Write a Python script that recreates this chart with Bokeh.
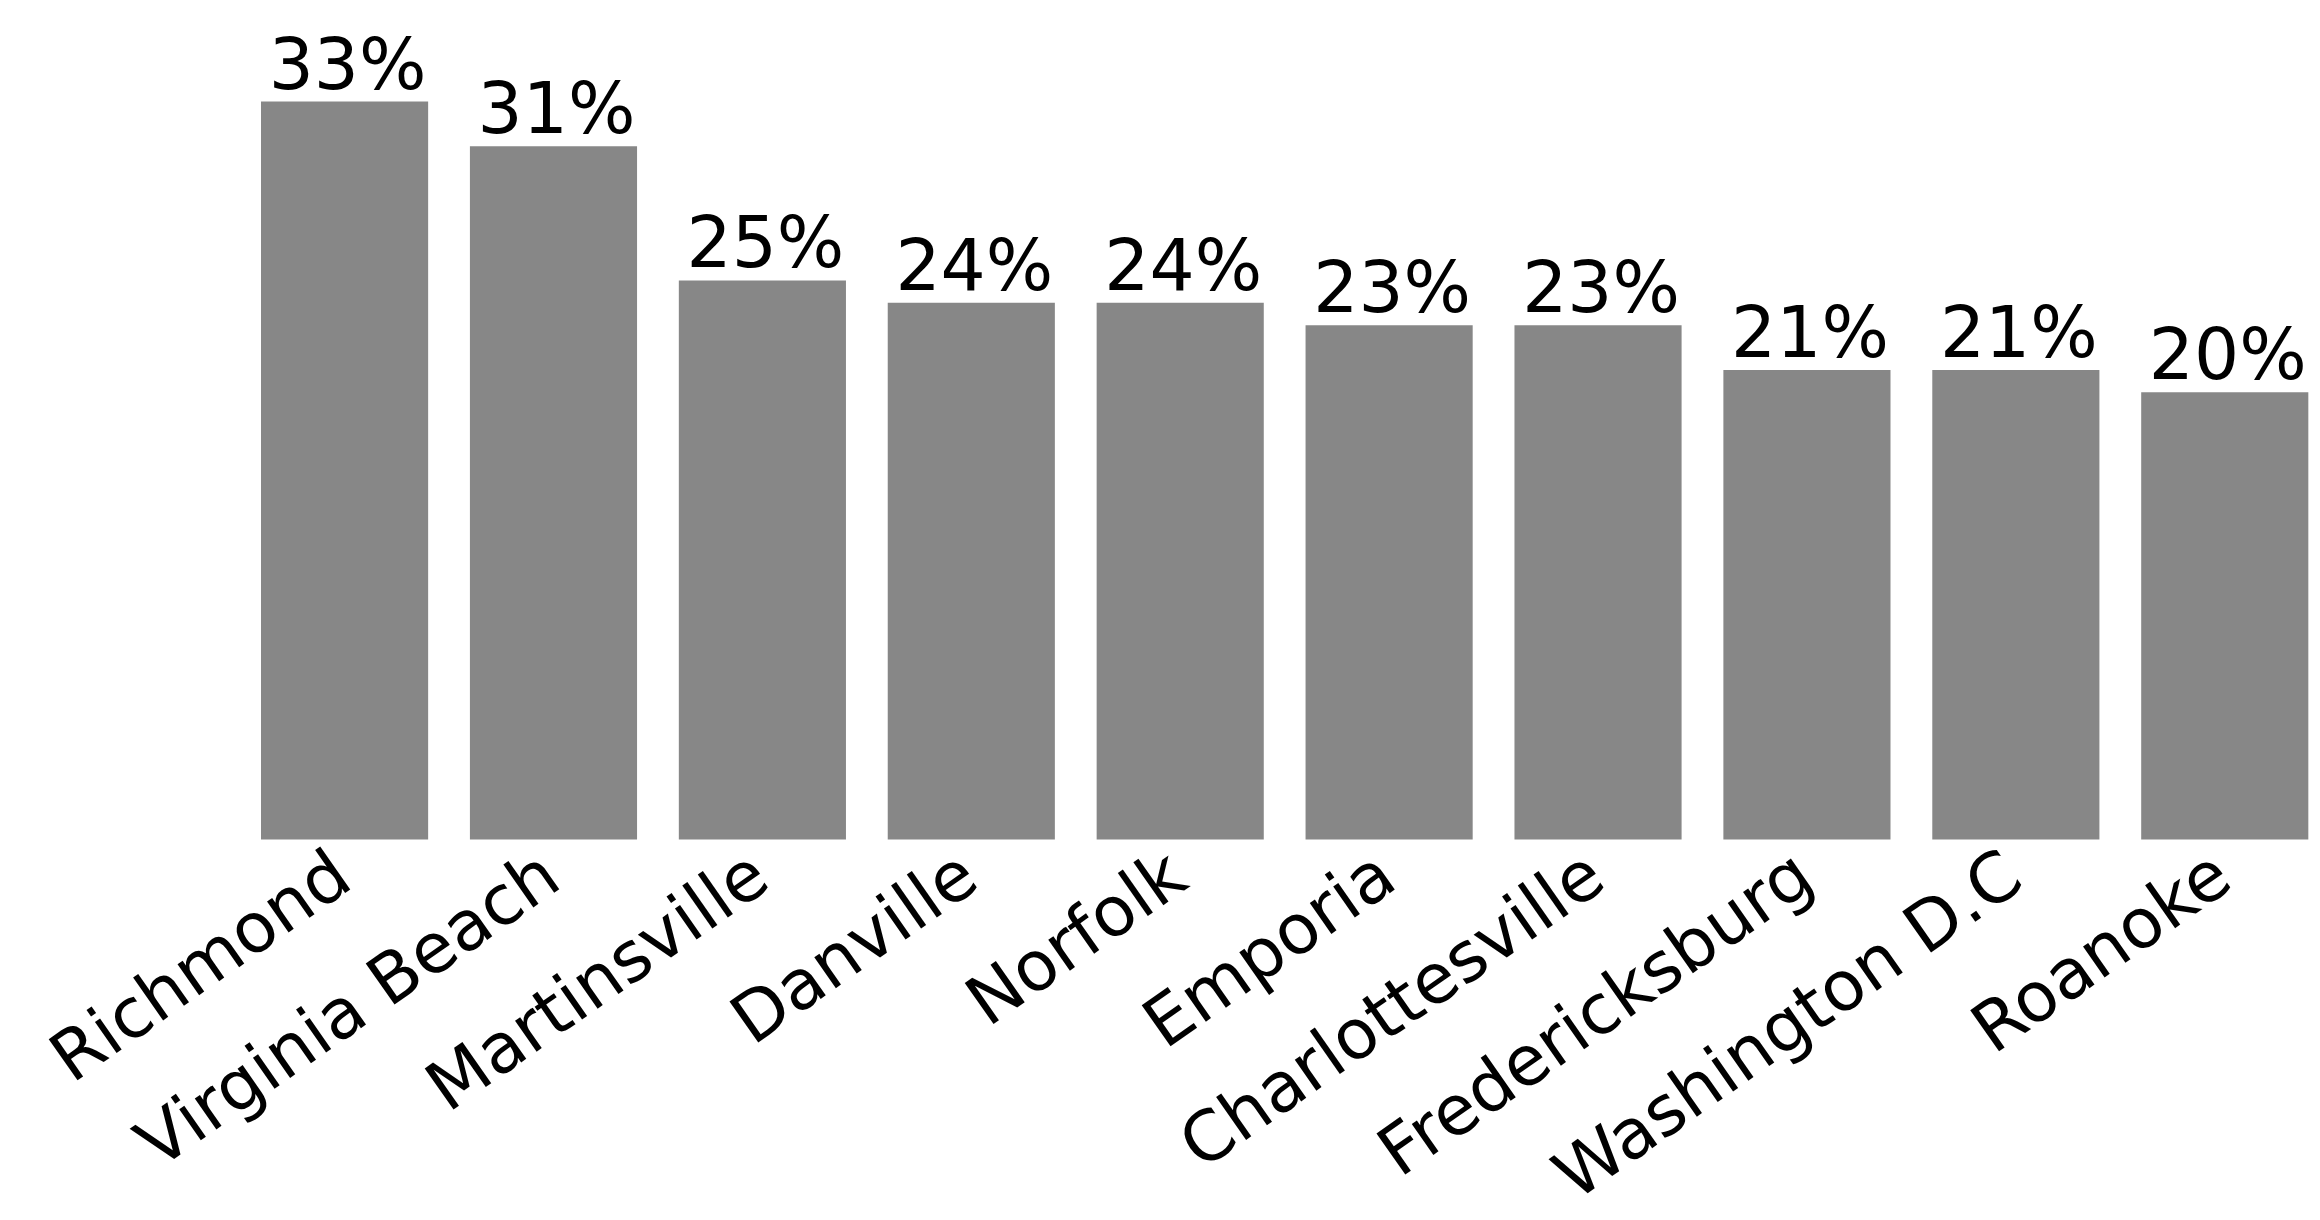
import math
from bokeh.plotting import figure
from bokeh.models import ColumnDataSource, Range1d
from bokeh.core.properties import value
from bokeh.embed import file_html
from bokeh.resources import INLINE

cities = ["Richmond", "Virginia Beach", "Martinsville", "Danville", "Norfolk",
          "Emporia", "Charlottesville", "Fredericksburg", "Washington D.C", "Roanoke"]
shares = [33, 31, 25, 24, 24, 23, 23, 21, 21, 20]
labels = [f"{v}%" for v in shares]

FONT = "DejaVu Sans"

src = ColumnDataSource(dict(x=list(range(len(cities))), top=shares, label=labels,
                            city=cities, base=[0] * len(cities)))

# frame spans the whole canvas so the rotated category labels below the bars stay visible
p = figure(width=2312, height=1220, output_backend="svg", toolbar_location=None,
           x_range=Range1d(-1.647, 9.42), y_range=Range1d(-17.04, 37.52),
           min_border_left=0, min_border_right=0, min_border_top=0,
           min_border_bottom=0)
p.vbar(x="x", top="top", bottom=0, width=0.8, source=src,
       fill_color="#878787", line_color=None)
p.text(x="x", y="top", text="label", source=src, text_align="center",
       text_baseline="bottom", y_offset=4, x_offset=3, text_font=value(FONT),
       text_font_size="71px", text_color="#000000")
p.text(x="x", y="base", text="city", source=src, angle=math.radians(35),
       text_align="right", text_baseline="top", x_offset=-26, y_offset=-6,
       text_font=value(FONT), text_font_size="69px", text_color="#000000")

p.xaxis.visible = False
p.yaxis.visible = False
p.xgrid.visible = False
p.ygrid.visible = False
p.outline_line_color = None
p.background_fill_color = "white"
p.border_fill_color = "white"

open("out.html", "w").write(file_html(p, INLINE))
